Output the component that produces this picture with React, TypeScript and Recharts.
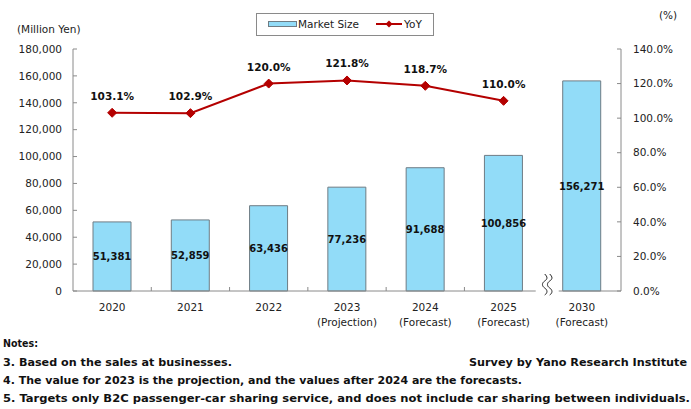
import React from 'react';
import { ComposedChart, Bar, Line, XAxis, YAxis, LabelList, Legend } from 'recharts';

const categories = ['2020', '2021', '2022', '2023', '2024', '2025', '2030'];
const subLabels = ['', '', '', '(Projection)', '(Forecast)', '(Forecast)', '(Forecast)'];
const marketSize = [51381, 52859, 63436, 77236, 91688, 100856, 156271];
const yoy = [103.1, 102.9, 120.0, 121.8, 118.7, 110.0, null];

const leftTicks = [0, 20000, 40000, 60000, 80000, 100000, 120000, 140000, 160000, 180000];
const rightTicks = [0, 20, 40, 60, 80, 100, 120, 140];

const notes = [
  'Notes:',
  '3. Based on the sales at businesses.',
  '4. The value for 2023 is the projection, and the values after 2024 are the forecasts.',
  '5. Targets only B2C passenger-car sharing service, and does not include car sharing between individuals.',
];
const source = 'Survey by Yano Research Institute';

const data = categories.map((c, i) => ({
  year: c,
  sub: subLabels[i],
  size: marketSize[i],
  yoy: yoy[i],
}));

const FONT = '"DejaVu Sans", sans-serif';
const BAR_FILL = '#92DCF8';
const BAR_STROKE = '#6E7C84';
const LINE_COLOR = '#B40000';
const AXIS_COLOR = '#8A8A8A';

const W = 691;
const H = 409;
const PLOT_LEFT = 73;
const PLOT_RIGHT = 621;
const BAND = (PLOT_RIGHT - PLOT_LEFT) / categories.length;

const Diamond = (props: any) => {
  const { cx, cy } = props;
  if (cx == null || cy == null) return <g />;
  const r = 4.5;
  return (
    <path
      d={`M${cx},${cy - r} L${cx + r},${cy} L${cx},${cy + r} L${cx - r},${cy} Z`}
      fill={LINE_COLOR}
      stroke={LINE_COLOR}
    />
  );
};

const XTick = (props: any) => {
  const { x, y, payload, index } = props;
  const sub = subLabels[index];
  const edge = x - BAND / 2;
  return (
    <g>
      {index > 0 && index < categories.length - 1 && (
        <line x1={edge} x2={edge} y1={y} y2={y - 4} stroke={AXIS_COLOR} />
      )}
      {index === categories.length - 1 && (
        <g>
          <rect x={edge - 7} y={y - 3} width={23} height={6} fill="#fff" />
          <path
            d={`M${edge + 2},${y - 17} c 3,3 3,5 0,7 c -3,2 -3,5 0,7 c 3,2 3,5 0,7`}
            fill="none"
            stroke="#222"
            strokeWidth={1}
          />
          <path
            d={`M${edge + 7},${y - 17} c 3,3 3,5 0,7 c -3,2 -3,5 0,7 c 3,2 3,5 0,7`}
            fill="none"
            stroke="#222"
            strokeWidth={1}
          />
        </g>
      )}
      <text x={x} y={y + 20} textAnchor="middle" fontSize={10.5} fontFamily={FONT} fill="#222">
        {payload.value}
      </text>
      {sub && (
        <text x={x} y={y + 35} textAnchor="middle" fontSize={10.5} fontFamily={FONT} fill="#222">
          {sub}
        </text>
      )}
    </g>
  );
};

const LegendBox = (props: any) => {
  const payload = props.payload || [];
  return (
    <svg width={178} height={23} style={{ display: 'block' }}>
      <rect x={0.5} y={0.5} width={177} height={22} fill="#fff" stroke="#8A8A8A" />
      {payload.map((entry: any, i: number) => {
        if (entry.type === 'rect' || i === 0) {
          return (
            <g key={i}>
              <rect x={12.5} y={8.5} width={28} height={5} fill={BAR_FILL} stroke={BAR_STROKE} />
              <text x={42} y={15} fontSize={10.5} fontFamily={FONT} fill="#222">
                {entry.value}
              </text>
            </g>
          );
        }
        return (
          <g key={i}>
            <line x1={120} x2={146} y1={11} y2={11} stroke={LINE_COLOR} strokeWidth={2} />
            <path d="M133,7.5 L136.5,11 L133,14.5 L129.5,11 Z" fill={LINE_COLOR} />
            <text x={148} y={15} fontSize={10.5} fontFamily={FONT} fill="#222">
              {entry.value}
            </text>
          </g>
        );
      })}
    </svg>
  );
};

export default function App() {
  return (
    <div style={{ position: 'absolute', left: 0, top: 0, width: W, height: H, background: '#fff' }}>
      <ComposedChart
        width={W}
        height={H}
        data={data}
        margin={{ top: 49, right: 0, bottom: 88, left: 0 }}
      >
        <XAxis
          dataKey="year"
          height={30}
          tickSize={0}
          tickMargin={0}
          tickLine={false}
          axisLine={{ stroke: AXIS_COLOR }}
          tick={<XTick />}
          interval={0}
        />
        <YAxis
          yAxisId="left"
          width={73}
          domain={[0, 180000]}
          ticks={leftTicks}
          tickFormatter={(v: number) => v.toLocaleString('en-US')}
          tickSize={-4}
          tickMargin={15}
          tickLine={{ stroke: AXIS_COLOR }}
          axisLine={{ stroke: AXIS_COLOR }}
          tick={{ fontSize: 10.5, fontFamily: FONT, fill: '#222' }}
          interval={0}
        />
        <YAxis
          yAxisId="right"
          orientation="right"
          width={70}
          domain={[0, 140]}
          ticks={rightTicks}
          tickFormatter={(v: number) => v.toFixed(1) + '%'}
          tickSize={-4}
          tickMargin={16}
          tickLine={{ stroke: AXIS_COLOR }}
          axisLine={{ stroke: AXIS_COLOR }}
          tick={{ fontSize: 10.5, fontFamily: FONT, fill: '#222', textAnchor: 'start' }}
          interval={0}
        />
        <Legend
          layout="horizontal"
          verticalAlign="middle"
          align="center"
          wrapperStyle={{ top: 13, left: 256, width: 178, height: 23 }}
          content={<LegendBox />}
        />
        <Bar
          yAxisId="left"
          dataKey="size"
          name="Market Size"
          barSize={38}
          fill={BAR_FILL}
          stroke={BAR_STROKE}
          strokeWidth={1}
          isAnimationActive={false}
        >
          <LabelList
            dataKey="size"
            position="center"
            formatter={(v: any) => (v == null ? '' : Number(v).toLocaleString('en-US'))}
            style={{ fontSize: 10, fontWeight: 'bold', fontFamily: FONT, fill: '#111' }}
          />
        </Bar>
        <Line
          yAxisId="right"
          dataKey="yoy"
          name="YoY"
          stroke={LINE_COLOR}
          strokeWidth={2}
          dot={<Diamond />}
          activeDot={false}
          connectNulls={false}
          isAnimationActive={false}
        >
          <LabelList
            dataKey="yoy"
            position="top"
            offset={13}
            formatter={(v: any) => (v == null ? '' : Number(v).toFixed(1) + '%')}
            style={{ fontSize: 10.5, fontWeight: 'bold', fontFamily: FONT, fill: '#111' }}
          />
        </Line>
      </ComposedChart>
      <svg
        width={W}
        height={H}
        style={{ position: 'absolute', left: 0, top: 0, pointerEvents: 'none' }}
      >
        <text x={17} y={33} fontSize={10.5} fontFamily={FONT} fill="#222">
          (Million Yen)
        </text>
        <text x={659} y={19} fontSize={10.5} fontFamily={FONT} fill="#222">
          (%)
        </text>
        <text x={3} y={347} fontSize={11} fontWeight="bold" fontFamily={FONT} fill="#111"
          textLength={35} lengthAdjust="spacingAndGlyphs">
          {notes[0]}
        </text>
        <text x={3} y={366} fontSize={11} fontWeight="bold" fontFamily={FONT} fill="#111"
          textLength={229} lengthAdjust="spacingAndGlyphs">
          {notes[1]}
        </text>
        <text x={3} y={384} fontSize={11} fontWeight="bold" fontFamily={FONT} fill="#111"
          textLength={519} lengthAdjust="spacingAndGlyphs">
          {notes[2]}
        </text>
        <text x={3} y={402} fontSize={11} fontWeight="bold" fontFamily={FONT} fill="#111"
          textLength={687} lengthAdjust="spacingAndGlyphs">
          {notes[3]}
        </text>
        <text x={469} y={366} fontSize={11} fontWeight="bold" fontFamily={FONT} fill="#111"
          textLength={218} lengthAdjust="spacingAndGlyphs">
          {source}
        </text>
      </svg>
    </div>
  );
}
